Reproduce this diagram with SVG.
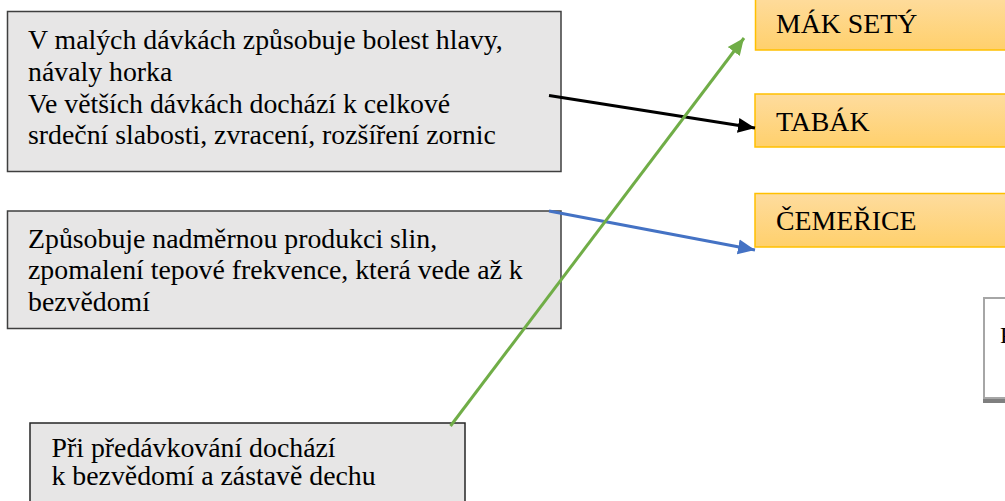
<svg xmlns="http://www.w3.org/2000/svg" width="1005" height="501" viewBox="0 0 1005 501">
  <defs>
    <linearGradient id="gold" x1="0" y1="0" x2="0" y2="1">
      <stop offset="0" stop-color="#fedc9e"/>
      <stop offset="1" stop-color="#ffd06c"/>
    </linearGradient>
    <marker id="ahBlack" markerUnits="userSpaceOnUse" markerWidth="20" markerHeight="18" refX="17" refY="9" orient="auto">
      <path d="M0,1.5 L17,9 L0,16.5 Z" fill="#000000"/>
    </marker>
    <marker id="ahBlue" markerUnits="userSpaceOnUse" markerWidth="20" markerHeight="18" refX="17" refY="9" orient="auto">
      <path d="M0,1.5 L17,9 L0,16.5 Z" fill="#4472c4"/>
    </marker>
    <marker id="ahGreen" markerUnits="userSpaceOnUse" markerWidth="20" markerHeight="18" refX="17" refY="9" orient="auto">
      <path d="M0,1.5 L17,9 L0,16.5 Z" fill="#70ad47"/>
    </marker>
  </defs>
  <style>
    .gbox { fill: #e7e6e6; stroke: #3f3f3f; stroke-width: 1.5; }
    .obox { fill: url(#gold); stroke: #ffc000; stroke-width: 1.5; }
    text { font-family: 'Liberation Serif', 'Times New Roman', serif; font-size: 27.8px; fill: #000000; }
    .conn { fill: none; stroke-linecap: butt; }
  </style>
  <rect width="1005" height="501" fill="#ffffff"/>

  <g id="node-desc1">
    <rect class="gbox" x="7.5" y="11.5" width="553.5" height="160"/>
    <text x="28" y="48.5">V malých dávkách způsobuje bolest hlavy,</text>
    <text x="28" y="80.5">návaly horka</text>
    <text x="28" y="112.5">Ve větších dávkách dochází k celkové</text>
    <text x="28" y="144">srdeční slabosti, zvracení, rozšíření zornic</text>
  </g>

  <g id="node-desc2">
    <rect class="gbox" x="7.5" y="211" width="553.5" height="117.5"/>
    <text x="28" y="247.5">Způsobuje nadměrnou produkci slin,</text>
    <text x="28" y="279">zpomalení tepové frekvence, která vede až k</text>
    <text x="28" y="310.5">bezvědomí</text>
  </g>

  <g id="node-desc3">
    <rect class="gbox" x="30" y="423" width="435" height="90" style="stroke:#262626"/>
    <text x="51.5" y="456.5">Při předávkování dochází</text>
    <text x="51.5" y="485">k bezvědomí a zástavě dechu</text>
  </g>

  <g id="node-mak">
    <rect class="obox" x="755.5" y="-4" width="260" height="54"/>
    <text x="776" y="33">MÁK SETÝ</text>
  </g>

  <g id="node-tabak">
    <rect class="obox" x="755" y="94" width="260" height="53"/>
    <text x="776" y="130.5">TABÁK</text>
  </g>

  <g id="node-cemerice">
    <rect class="obox" x="755" y="193.5" width="260" height="53.5"/>
    <text x="776" y="230">ČEMEŘICE</text>
  </g>

  <g id="node-partial">
    <rect x="983" y="398" width="30" height="5" fill="#7f7f7f"/>
    <rect x="984" y="298" width="30" height="100" fill="#ffffff" stroke="#a6a6a6" stroke-width="2"/>
    <text x="1000" y="343" style="font-size:24px">P</text>
  </g>

  <g id="connectors">
    <line class="conn" x1="549" y1="95.5" x2="755" y2="128" stroke="#000000" stroke-width="3" marker-end="url(#ahBlack)"/>
    <line class="conn" x1="549" y1="211" x2="755" y2="250" stroke="#4472c4" stroke-width="3" marker-end="url(#ahBlue)"/>
    <line class="conn" x1="450.5" y1="426" x2="744" y2="38" stroke="#70ad47" stroke-width="3" marker-end="url(#ahGreen)"/>
  </g>
</svg>
